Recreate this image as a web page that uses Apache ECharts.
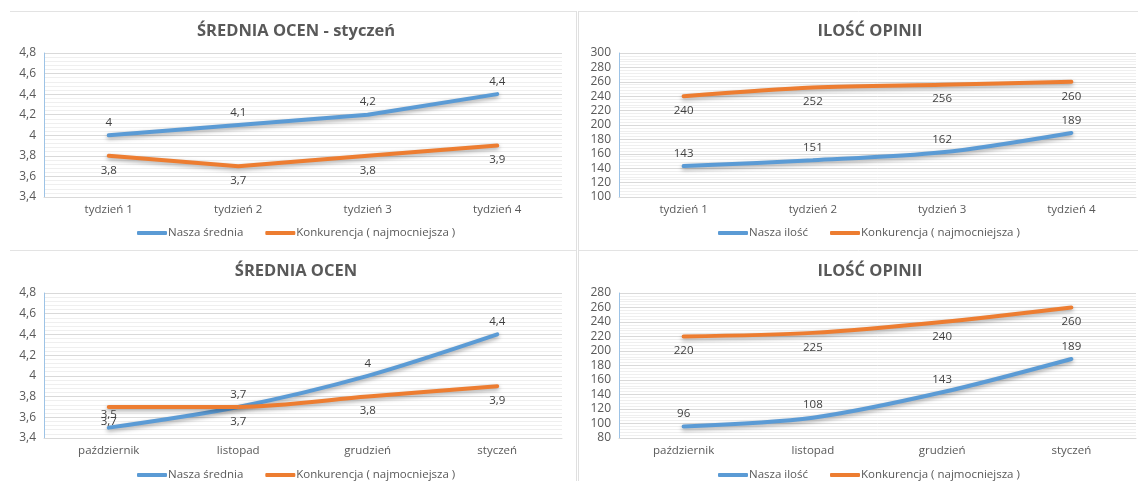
<!DOCTYPE html>
<html>
<head>
<meta charset="utf-8">
<script src="https://cdn.jsdelivr.net/npm/echarts@6/dist/echarts.min.js"></script>
<style>
  html, body { margin: 0; padding: 0; background: #fff; }
  #chart { width: 1138px; height: 481px; }
</style>
</head>
<body>
<div id="chart"></div>
<script>
// kategorie
var weeks = ['tydzień 1', 'tydzień 2', 'tydzień 3', 'tydzień 4'];
var months = ['październik', 'listopad', 'grudzień', 'styczeń'];

// średnia ocen - styczeń
var avgJanOur = [4, 4.1, 4.2, 4.4];
var avgJanComp = [3.8, 3.7, 3.8, 3.9];
// ilość opinii - tygodnie
var cntWeekOur = [143, 151, 162, 189];
var cntWeekComp = [240, 252, 256, 260];
// średnia ocen - miesiące
var avgMonOur = [3.5, 3.7, 4, 4.4];
var avgMonComp = [3.7, 3.7, 3.8, 3.9];
// ilość opinii - miesiące
var cntMonOur = [96, 108, 143, 189];
var cntMonComp = [220, 225, 240, 260];

var BLUE = '#5b9bd5', ORANGE = '#ed7d31';
var FONT = '"Open Sans", "Noto Sans", sans-serif';

function comma(v) {
  return String(Math.round(v * 10) / 10).replace('.', ',');
}

var grids = [
  {left: 44, top: 53, width: 518, height: 144},
  {left: 619, top: 53, width: 517, height: 144},
  {left: 44, top: 293, width: 518, height: 145},
  {left: 619, top: 293, width: 517, height: 145}
];

function yAx(i, min, max, interval, fmt) {
  return {
    type: 'value', gridIndex: i, min: min, max: max, interval: interval,
    axisLine: {show: true, lineStyle: {color: '#9dc3e6', width: 1}},
    axisTick: {show: false},
    axisLabel: {color: '#595959', fontSize: 12, fontFamily: FONT, margin: 8,
      formatter: fmt},
    splitLine: {lineStyle: {color: '#d9d9d9', width: 1}},
    minorTick: {show: false, splitNumber: 5},
    minorSplitLine: {show: true, lineStyle: {color: '#efefef', width: 1}}
  };
}

function xAx(i, cats) {
  return {
    type: 'category', gridIndex: i, data: cats, boundaryGap: true,
    axisLine: {show: true, lineStyle: {color: '#d9d9d9'}},
    axisTick: {show: false},
    axisLabel: {color: '#595959', fontSize: 11.5, fontFamily: FONT, margin: 7}
  };
}

function line(i, name, data, color, pos, smooth, fmt) {
  return {
    type: 'line', name: name, xAxisIndex: i, yAxisIndex: i, data: data,
    smooth: smooth, symbol: 'circle', symbolSize: 1,
    itemStyle: {color: color},
    lineStyle: {color: color, width: 4, cap: 'round',
      shadowColor: 'rgba(0,0,0,0.35)', shadowBlur: 4, shadowOffsetY: 2},
    label: {show: true, position: pos, distance: pos === 'top' ? 6 : 8, color: '#404040',
      fontSize: 11.5, fontFamily: FONT, formatter: function (p) { return fmt(p.value); }},
    emphasis: {disabled: true}
  };
}

function plain(v) { return String(v); }

function title(text, x, y) {
  return {
    text: text, left: x, top: y, textAlign: 'center',
    textStyle: {color: '#595959', fontSize: 16.5, fontWeight: 'bold', fontFamily: FONT}
  };
}

function legend(names, x, y) {
  return {
    data: names, left: x, top: y, itemWidth: 30, itemHeight: 4, itemGap: 22,
    icon: 'roundRect', selectedMode: false,
    textStyle: {color: '#595959', fontSize: 11.5, fontFamily: FONT, padding: [0, 0, 0, -4]}
  };
}

var comp = 'Konkurencja ( najmocniejsza )';

var chart = echarts.init(document.getElementById('chart'), null, {renderer: 'canvas'});
chart.setOption({
  backgroundColor: '#fff',
  animation: false,
  title: [
    title('ŚREDNIA OCEN - styczeń', 291, 18),
    title('ILOŚĆ OPINII', 865, 18),
    title('ŚREDNIA OCEN', 291, 258),
    title('ILOŚĆ OPINII', 865, 258)
  ],
  legend: [
    legend(['Nasza średnia', comp], 132, 222),
    legend(['Nasza ilość', comp], 713, 222),
    legend(['Nasza średnia', comp], 132, 464),
    legend(['Nasza ilość', comp], 713, 464)
  ],
  grid: grids,
  xAxis: [xAx(0, weeks), xAx(1, weeks), xAx(2, months), xAx(3, months)],
  yAxis: [
    yAx(0, 3.4, 4.8, 0.2, comma),
    yAx(1, 100, 300, 20, plain),
    yAx(2, 3.4, 4.8, 0.2, comma),
    yAx(3, 80, 280, 20, plain)
  ],
  series: [
    line(0, 'Nasza średnia', avgJanOur, BLUE, 'top', false, comma),
    line(0, comp, avgJanComp, ORANGE, 'bottom', false, comma),
    line(1, 'Nasza ilość', cntWeekOur, BLUE, 'top', 0.3, plain),
    line(1, comp, cntWeekComp, ORANGE, 'bottom', 0.3, plain),
    line(2, 'Nasza średnia', avgMonOur, BLUE, 'top', 0.3, comma),
    line(2, comp, avgMonComp, ORANGE, 'bottom', 0.3, comma),
    line(3, 'Nasza ilość', cntMonOur, BLUE, 'top', 0.3, plain),
    line(3, comp, cntMonComp, ORANGE, 'bottom', 0.3, plain)
  ],
  graphic: [
    // ramki wykresów
    {type: 'line', shape: {x1: 10, y1: 11.5, x2: 576, y2: 11.5}, style: {stroke: '#e3e3e3', lineWidth: 1}, silent: true},
    {type: 'line', shape: {x1: 579, y1: 11.5, x2: 1138, y2: 11.5}, style: {stroke: '#e3e3e3', lineWidth: 1}, silent: true},
    {type: 'line', shape: {x1: 10, y1: 250.5, x2: 576, y2: 250.5}, style: {stroke: '#e3e3e3', lineWidth: 1}, silent: true},
    {type: 'line', shape: {x1: 579, y1: 250.5, x2: 1138, y2: 250.5}, style: {stroke: '#e3e3e3', lineWidth: 1}, silent: true},
    {type: 'line', shape: {x1: 576.5, y1: 11, x2: 576.5, y2: 481}, style: {stroke: '#e0e0e0', lineWidth: 1}, silent: true},
    {type: 'line', shape: {x1: 578.5, y1: 11, x2: 578.5, y2: 481}, style: {stroke: '#e0e0e0', lineWidth: 1}, silent: true}
  ]
});
</script>
</body>
</html>
